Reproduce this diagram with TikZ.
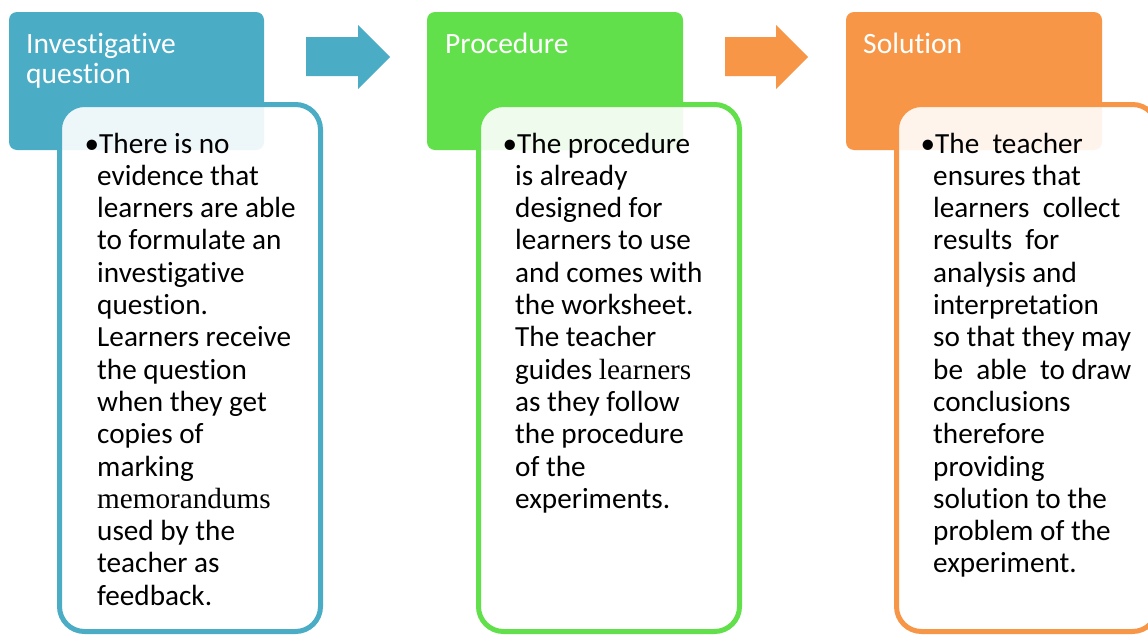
\documentclass[tikz,border=0pt]{standalone}
\usepackage{fontspec}
\setmainfont[Ligatures={NoCommon,NoRare,NoContextual}]{Carlito}
\newfontfamily\serifalt{Liberation Serif}
\definecolor{cblue}{HTML}{4BACC6}
\definecolor{cgreen}{HTML}{62E04B}
\definecolor{corange}{HTML}{F79646}
\tikzset{
  hdr/.style={rounded corners=8pt, fill=#1},
  card/.style={rounded corners=25pt, draw=#1, line width=5pt, fill=white, fill opacity=0.9},
  hdrtext/.style={anchor=base west, inner sep=0pt, text=white, font=\fontsize{29.5}{30}\selectfont},
  bodytext/.style={anchor=base west, inner sep=0pt, font=\fontsize{29.2}{32.3}\selectfont},
  bul/.style={anchor=base west, inner sep=0pt, font=\fontsize{29.2}{32.3}\selectfont},
  flow/.style={fill=#1}
}
\begin{document}
\begin{tikzpicture}[x=1pt,y=-1pt]
\useasboundingbox (0,0) rectangle (1148,635);
\clip (0,0) rectangle (1148,635);
\fill[white] (0,0) rectangle (1148,635);

% headers
\path[hdr=cblue] (9,12) rectangle (264,150);
\path[hdr=cgreen] (427,12) rectangle (683,150);
\path[hdr=corange] (846,12) rectangle (1102,150);

% arrows
\path[flow=cblue] (306,37) -- (358,37) -- (358,25) -- (390,57) -- (358,89) -- (358,76) -- (306,76) -- cycle;
\path[flow=corange] (725,37) -- (776,37) -- (776,25) -- (808,57) -- (776,89) -- (776,76) -- (725,76) -- cycle;

% cards
\path[card=cblue] (59.5,104.5) rectangle (320.5,631.5);
\path[card=cgreen] (478.5,104.5) rectangle (739.5,631.5);
\path[card=corange] (896.5,104.5) rectangle (1157.5,631.5);

% header texts
\node[hdrtext] (t1) at (26,53) {\vtop{\baselineskip=30pt\hbox{Investigative}\hbox{question}}};
\node[hdrtext] (t2) at (445,53) {Procedure};
\node[hdrtext] (t3) at (863,53) {Solution};

% bullets
\node[bul] (b1) at (84.5,153) {•};
\node[bul] (b2) at (502.5,153) {•};
\node[bul] (b3) at (920.5,153) {•};

% body texts
\node[bodytext] (x1) at (97,153) {\vtop{\baselineskip=32.3pt
\hbox{\kern2pt There is no}\hbox{evidence that}\hbox{learners are able}\hbox{to formulate an}
\hbox{investigative}\hbox{question.}\hbox{Learners receive}\hbox{the question}
\hbox{when they get}\hbox{copies of}\hbox{marking}\hbox{{\serifalt memorandums}}
\hbox{used by the}\hbox{teacher as}\hbox{feedback.}}};

\node[bodytext] (x2) at (515,153) {\vtop{\baselineskip=32.3pt
\hbox{\kern2pt The procedure}\hbox{is already}\hbox{designed for}\hbox{learners to use}
\hbox{and comes with}\hbox{the worksheet.}\hbox{The teacher}\hbox{guides {\serifalt learners}}
\hbox{as they follow}\hbox{the procedure}\hbox{of the}\hbox{experiments.}}};

\node[bodytext] (x3) at (933,153) {\vtop{\baselineskip=32.3pt
\hbox{\kern2pt The~~teacher}\hbox{ensures that}\hbox{learners~~collect}\hbox{results~~for}
\hbox{analysis and}\hbox{interpretation}\hbox{so that they may}\hbox{be~~able~~to draw}
\hbox{conclusions}\hbox{therefore}\hbox{providing}\hbox{solution to the}
\hbox{problem of the}\hbox{experiment.}}};
\end{tikzpicture}
\end{document}
